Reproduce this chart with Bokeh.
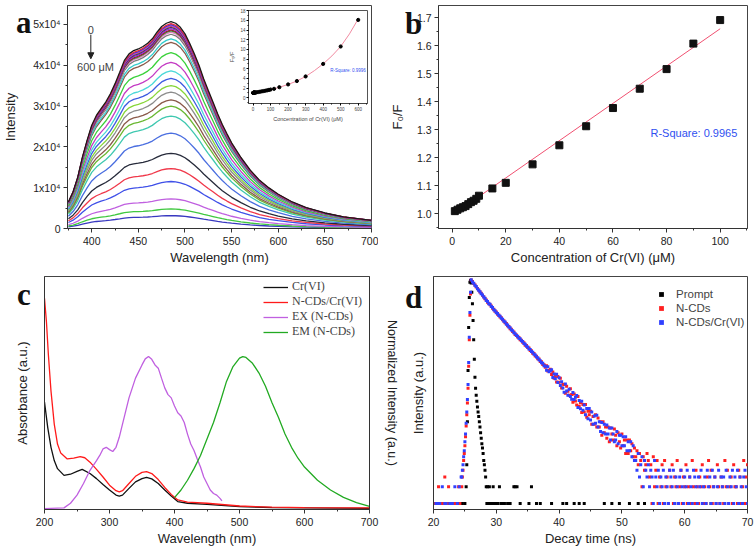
import numpy as np
from bokeh.plotting import figure
from bokeh.layouts import column, row
from bokeh.models import (Range1d, LinearAxis, FixedTicker, SingleIntervalTicker,
                          Label, Arrow, NormalHead, Legend, LegendItem, Div,
                          PrintfTickFormatter)
from bokeh.embed import file_html
from bokeh.resources import INLINE

SANS = "Liberation Sans"
SERIF = "Liberation Serif"

# ---------------- data: panel a (emission spectra) ----------------
wavelength = [375, 380, 385, 390, 395, 400, 405, 410, 415, 420, 425, 430, 435, 440, 445,
              450, 455, 460, 465, 470, 475, 480, 485, 490, 495, 500, 505, 510, 515, 520,
              525, 530, 535, 540, 545, 550, 560, 570, 580, 590, 600, 615, 630, 650, 670, 700]
intensity_0uM = [6500, 9000, 12600, 17500, 21600, 25300, 27700, 29400, 31000, 33000, 35500,
                 38300, 41200, 42800, 43600, 44000, 44600, 45400, 46500, 48100, 49500, 50300,
                 50700, 50300, 49300, 47700, 45400, 42800, 40000, 36700, 33800, 31000, 28100,
                 25500, 23200, 21000, 17400, 14300, 11800, 9950, 8400, 6500, 5100, 3800, 2850, 2000]
conc = [0, 1, 2, 3, 4, 5, 6, 7, 8, 9, 10, 15, 20, 30, 40, 50, 60, 70, 80, 90, 100,
        120, 150, 200, 250, 300, 400, 500, 600]
f0_over_f = [1.000, 1.010, 1.015, 1.020, 1.024, 1.028, 1.035, 1.042, 1.047, 1.054, 1.065,
             1.091, 1.111, 1.177, 1.245, 1.313, 1.378, 1.447, 1.517, 1.608, 1.692,
             1.84, 2.17, 2.75, 3.45, 4.4, 7.0, 10.6, 16.1]
spec_colors = ["#1a1a1a", "#e8283c", "#2f3fd8", "#d63ad6", "#8a6a2f", "#20207f", "#9932cc",
               "#9b1b30", "#3a9a3a", "#e879c8", "#7a7a7a", "#33cccc", "#8b5a4a", "#3ad13a",
               "#c43bc4", "#4ad8d8", "#3f5be0", "#88d63a", "#8c8c8c", "#8b5a4a", "#6ab832",
               "#3fc8b0", "#4a6ee0", "#262a3a", "#f0384a", "#3f50e8", "#c060e0", "#40c840", "#3838c0"]
inset_fit_conc = [0, 50, 100, 150, 200, 250, 300, 350, 400, 450, 500, 550, 600]
inset_fit_val = [1.0, 1.3, 1.65, 2.15, 2.75, 3.45, 4.4, 5.6, 7.0, 8.65, 10.6, 13.2, 16.3]

# ---------------- data: panel b ----------------
b_conc = conc[1:21]
b_ratio = f0_over_f[1:21]
b_fit_conc = [1, 100]
b_fit_ratio = [1.002, 1.661]

# ---------------- data: panel c ----------------
crvi_wl = [200, 205, 210, 215, 220, 230, 240, 250, 258, 270, 280, 290, 300, 310, 315, 320, 330,
           340, 350, 357, 365, 375, 385, 395, 405, 420, 450, 500, 550, 600, 700]
crvi_abs = [0.459, 0.349, 0.264, 0.207, 0.172, 0.143, 0.148, 0.160, 0.169, 0.151, 0.129, 0.104,
            0.080, 0.058, 0.054, 0.058, 0.087, 0.115, 0.129, 0.134, 0.128, 0.108, 0.080, 0.054,
            0.030, 0.023, 0.018, 0.009, 0.004, 0.003, 0.001]
mix_wl = [200, 203, 206, 210, 215, 220, 225, 235, 245, 255, 262, 270, 280, 290, 300, 310, 315,
          320, 330, 340, 350, 357, 365, 375, 385, 395, 405, 420, 450, 500, 550, 600, 700]
mix_abs = [0.906, 0.804, 0.662, 0.506, 0.364, 0.278, 0.239, 0.214, 0.217, 0.224, 0.219, 0.200,
           0.169, 0.136, 0.101, 0.077, 0.072, 0.077, 0.108, 0.139, 0.156, 0.159, 0.151, 0.125,
           0.091, 0.061, 0.037, 0.028, 0.023, 0.011, 0.006, 0.004, 0.003]
ex_wl = [200, 230, 240, 250, 260, 270, 280, 285, 290, 295, 300, 305, 310, 315, 320, 330, 340,
         350, 355, 360, 365, 370, 375, 380, 385, 390, 395, 400, 405, 410, 415, 420, 425, 430,
         435, 440, 445, 450, 455, 460, 465, 470, 473]
ex_int = [0.0, 0.003, 0.023, 0.058, 0.108, 0.165, 0.207, 0.229, 0.257, 0.264, 0.254, 0.246,
          0.264, 0.307, 0.364, 0.477, 0.562, 0.619, 0.645, 0.655, 0.643, 0.619, 0.605, 0.562,
          0.520, 0.491, 0.477, 0.442, 0.413, 0.399, 0.371, 0.321, 0.278, 0.250, 0.214, 0.179,
          0.136, 0.108, 0.080, 0.065, 0.058, 0.044, 0.033]
em_wl = [400, 410, 420, 430, 440, 450, 460, 470, 480, 490, 500, 505, 510, 520, 530, 540, 550,
         560, 570, 580, 590, 600, 620, 640, 660, 680, 700]
em_int = [0.047, 0.080, 0.122, 0.172, 0.229, 0.300, 0.371, 0.456, 0.548, 0.612, 0.648, 0.655,
          0.651, 0.626, 0.584, 0.527, 0.456, 0.392, 0.321, 0.264, 0.217, 0.179, 0.122, 0.080,
          0.048, 0.026, 0.009]

# ---------------- data: panel d (decay counts) ----------------
t_main = np.round(np.arange(26.0, 52.01, 0.2), 1)   # time channels, ns
t_tail = np.round(np.arange(52.2, 70.01, 0.2), 1)
ncd_main = [10800, 10150, 9300, 8800, 8050, 7600, 7150, 6550, 6200, 5700,
            5400, 4950, 4720, 4300, 4100, 3850, 3680, 3350, 3210, 2940,
            2850, 2610, 2530, 2320, 2240, 2060, 1990, 1820, 1770, 1610,
            1570, 1430, 1390, 1270, 1240, 1120, 1100, 1010, 990, 900,
            885, 810, 795, 720, 710, 650, 640, 575, 570, 515,
            510, 460, 455, 410, 405, 365, 360, 322, 320, 286,
            305, 245, 251, 265, 213, 235, 182, 195, 155, 196,
            154, 182, 122, 142, 140, 98, 130, 106, 90, 118,
            93, 67, 95, 71, 60, 85, 57, 66, 44, 61,
            45, 61, 36, 46, 40, 46, 27, 37, 27, 40,
            24, 35, 24, 30, 17, 30, 19, 24, 15, 24,
            13, 23, 18, 14, 22, 17, 11, 19, 13, 10,
            18, 11, 14, 8, 14, 8, 14, 9, 12, 7, 10]
ncd_tail = [7, 9, 5, 8, 6, 2, 7, 4, 5, 8, 6, 3, 5, 1, 7, 2, 4, 6, 1, 3,
            2, 5, 1, 6, 2, 3, 1, 4, 2, 5, 1, 3, 2, 6, 1, 2, 4, 1, 3, 2,
            5, 1, 2, 3, 1, 6, 2, 1, 4, 2, 1, 3, 2, 5, 1, 2, 1, 3, 6, 2,
            4, 1, 2, 3, 1, 5, 2, 1, 3, 2, 1, 6, 2, 4, 1, 2, 3, 1, 5, 2,
            2, 1, 4, 3, 1, 2, 6, 1, 3, 5]
ncd_pre_t = [20.2, 20.6, 20.8, 21.2, 21.6, 21.8, 22.2, 22.4, 22.8, 23.2, 23.6, 24.0, 24.2, 24.5,
             24.6, 24.7, 24.8, 24.9, 25.0, 25.1, 25.2, 25.3, 25.4, 25.5, 25.6, 25.7, 25.8, 25.9]
ncd_pre_c = [1, 1, 2, 1, 1, 3, 1, 2, 1, 1, 1, 2, 1, 2, 3, 4, 6, 8, 11, 16, 25, 40, 65, 120,
             300, 900, 2500, 6000]
mix_main = [10900, 9950, 9400, 8650, 8200, 7500, 7050, 6650, 6100, 5800,
            5300, 5050, 4620, 4420, 4020, 3920, 3580, 3430, 3120, 3010,
            2780, 2680, 2460, 2390, 2190, 2110, 1940, 1880, 1720, 1670,
            1530, 1480, 1350, 1310, 1200, 1160, 1070, 1040, 955, 935,
            860, 835, 770, 750, 690, 668, 615, 600, 552, 538,
            495, 480, 440, 428, 392, 378, 346, 338, 306, 300,
            254, 293, 238, 249, 258, 188, 218, 178, 216, 153,
            186, 134, 157, 122, 102, 144, 107, 90, 115, 85,
            76, 101, 75, 83, 89, 54, 72, 51, 70, 48,
            60, 40, 52, 34, 52, 32, 45, 27, 38, 28,
            39, 24, 30, 20, 29, 19, 27, 18, 26, 18,
            23, 14, 23, 18, 13, 14, 20, 12, 17, 17,
            11, 16, 11, 16, 9, 13, 9, 13, 7, 11, 6]
mix_tail = [6, 4, 8, 3, 5, 7, 2, 6, 4, 3, 5, 2, 4, 3, 1, 6, 3, 2, 4, 1,
            3, 2, 4, 1, 3, 2, 1, 4, 3, 2, 4, 1, 3, 2, 1, 3, 4, 2, 1, 3,
            2, 4, 1, 3, 2, 1, 4, 3, 2, 1, 3, 2, 4, 1, 2, 3, 1, 4, 2, 3,
            1, 4, 2, 3, 1, 2, 4, 1, 3, 2, 3, 1, 4, 2, 1, 3, 2, 4, 1, 3,
            2, 4, 1, 3, 2, 1, 3, 4, 2, 1]
mix_pre_t = [20.4, 20.8, 21.0, 21.4, 21.8, 22.0, 22.6, 23.0, 23.4, 23.8, 24.1, 24.4, 24.5, 24.6,
             24.7, 24.8, 24.9, 25.0, 25.1, 25.2, 25.3, 25.4, 25.5, 25.6, 25.7, 25.8, 25.9]
mix_pre_c = [1, 1, 1, 2, 1, 1, 1, 1, 2, 1, 2, 3, 3, 4, 5, 7, 9, 13, 18, 28, 45, 75, 140, 350,
             1000, 2800, 6500]
prompt_t = [20.2, 20.6, 21.0, 21.4, 21.8, 22.2, 22.6, 23.0, 23.4, 23.8, 24.2, 24.6, 25.0,
            25.2, 25.3, 25.4, 25.5, 25.6, 25.7, 25.8, 25.9,
            26.0, 26.1, 26.2, 26.3, 26.4, 26.5, 26.6, 26.7, 26.8, 26.9, 27.0, 27.1, 27.2, 27.3,
            27.4, 27.5, 27.6, 27.7, 27.8, 27.9, 28.0, 28.1, 28.2, 28.3,
            28.4, 28.5, 28.6, 28.8, 28.9, 29.0, 29.2, 29.4, 29.5, 29.7, 30.0, 30.3, 30.5, 30.8,
            31.0, 31.3, 31.8, 32.2, 32.8, 33.0, 33.3, 33.8, 35.2, 35.6, 36.4, 37.0, 38.8, 40.6,
            41.2, 42.4, 43.2, 44.0, 47.2, 48.4, 49.6, 51.2, 52.6, 53.6, 55.8, 58.4, 61.0, 64.2]
prompt_c = [1, 1, 1, 1, 1, 1, 1, 1, 1, 1, 1, 1, 1,
            2, 5, 30, 250, 1500, 5200, 9800, 10600,
            9500, 6500, 4000, 2000, 900, 400, 190, 120, 90, 70, 55, 45, 37, 30,
            24, 19, 15, 12, 10, 8, 6, 5, 4, 3,
            2, 1, 2, 1, 2, 1, 1, 1, 2, 1, 1, 1, 2, 1,
            1, 1, 1, 1, 2, 2, 2, 1, 1, 2, 1, 1, 1, 1,
            1, 1, 1, 1, 1, 1, 1, 1, 1, 1, 1, 1, 1, 1]

panel_letters = ["a", "b", "c", "d"]


def base(p):
    p.grid.visible = False
    p.outline_line_color = "#444444"
    p.outline_line_width = 1
    p.background_fill_color = "white"
    for ax in p.xaxis + p.yaxis:
        ax.axis_line_color = "#333333"
        ax.major_tick_line_color = "#333333"
        ax.minor_tick_line_color = "#333333"
        ax.major_tick_in = 0
        ax.major_tick_out = 4
        ax.minor_tick_in = 0
        ax.minor_tick_out = 2
        ax.major_label_text_font = SANS
        ax.major_label_text_font_size = "10.5px"
        ax.major_label_text_color = "#222222"
        ax.axis_label_text_font = SANS
        ax.axis_label_text_font_style = "normal"
        ax.axis_label_text_font_size = "13px"
        ax.axis_label_text_color = "#222222"
        ax.major_label_standoff = 3


def letter_div(txt, left, top):
    return Div(text=txt, width=30, height=34,
               styles={"position": "absolute", "left": f"{left}px", "top": f"{top}px",
                       "font-family": SERIF, "font-weight": "bold", "font-size": "31px",
                       "line-height": "31px", "color": "#111111"})


common = dict(output_backend="svg", toolbar_location=None)

# ================= panel a =================
pa = figure(width=378, height=270, x_range=Range1d(374, 700), y_range=Range1d(0, 54650),
            min_border_left=62, min_border_right=7, min_border_top=5, min_border_bottom=42,
            **common)
base(pa)
for q, col in list(zip(f0_over_f, spec_colors))[::-1]:
    pa.line(wavelength, np.array(intensity_0uM) / q, line_color=col, line_width=1.3)
pa.xaxis.ticker = SingleIntervalTicker(interval=50, num_minor_ticks=2)
pa.yaxis.ticker = FixedTicker(ticks=[0, 10000, 20000, 30000, 40000, 50000],
                              minor_ticks=[5000, 15000, 25000, 35000, 45000])
pa.yaxis.major_label_overrides = {0: "0", 10000: "1x10\u2074", 20000: "2x10\u2074",
                                  30000: "3x10\u2074", 40000: "4x10\u2074", 50000: "5x10\u2074"}
pa.xaxis.axis_label = "Wavelength (nm)"
pa.yaxis.axis_label = "Intensity"
pa.xaxis.major_label_standoff = 4
pa.xaxis.axis_label_standoff = 2
pa.yaxis.axis_label_standoff = 12
pa.add_layout(Label(x=399, y=48700, text="0", text_font=SANS, text_font_size="11px",
                    text_align="center", text_baseline="middle"))
pa.add_layout(Arrow(x_start=399, y_start=47500, x_end=399, y_end=41600, line_width=1,
                    line_color="#222222",
                    end=NormalHead(size=6, fill_color="#222222", line_color="#222222")))
pa.add_layout(Label(x=404, y=39600, text="600 \u03bcM", text_font=SANS, text_font_size="11px",
                    text_align="center", text_baseline="middle"))

# ----- inset of panel a -----
ins = figure(width=146, height=118, x_range=Range1d(-26, 653), y_range=Range1d(-1.2, 18.05),
             min_border_left=13, min_border_right=5, min_border_top=4, min_border_bottom=20,
             styles={"position": "absolute", "left": "226px", "top": "6px"}, **common)
ins.grid.visible = False
ins.border_fill_alpha = 0
ins.outline_line_color = "#555555"
ins.line(inset_fit_conc, inset_fit_val, line_color="#f08aa0", line_width=1)
ins.scatter(conc, f0_over_f, marker="circle", size=3.2, color="black")
for ax in ins.xaxis + ins.yaxis:
    ax.major_tick_in = 0
    ax.major_tick_out = 2
    ax.minor_tick_in = 0
    ax.minor_tick_out = 1
    ax.axis_line_color = "#444444"
    ax.major_label_text_font = SANS
    ax.major_label_text_font_size = "4.5px"
    ax.major_label_standoff = 1
    ax.axis_label_text_font = SANS
    ax.axis_label_text_font_style = "normal"
    ax.axis_label_text_font_size = "5.5px"
    ax.axis_label_standoff = 2
ins.xaxis.ticker = SingleIntervalTicker(interval=100, num_minor_ticks=2)
ins.yaxis.ticker = SingleIntervalTicker(interval=2, num_minor_ticks=2)
ins.xaxis.axis_label = "Concentration of Cr(VI) (\u03bcM)"
ins.yaxis.axis_label = "F\u2080/F"
ins.add_layout(Label(x=441, y=5.6, text="R-Square: 0.9996", text_font=SANS,
                     text_font_size="4.5px", text_color="#3050f0", text_baseline="middle"))

# ================= panel b =================
pb = figure(width=378, height=270, x_range=Range1d(-5.1, 110.2), y_range=Range1d(0.948, 1.744),
            min_border_left=60, min_border_right=9, min_border_top=5, min_border_bottom=41,
            **common)
base(pb)
pb.line(b_fit_conc, b_fit_ratio, line_color="#f05070", line_width=1)
pb.scatter(b_conc, b_ratio, marker="square", size=7, color="#111111")
pb.xaxis.ticker = SingleIntervalTicker(interval=20, num_minor_ticks=2)
pb.yaxis.ticker = SingleIntervalTicker(interval=0.1, num_minor_ticks=2)
pb.yaxis.formatter = PrintfTickFormatter(format="%.1f")
pb.xaxis.axis_label = "Concentration of Cr(VI) (\u03bcM)"
pb.yaxis.axis_label = "F\u2080/F"
pb.xaxis.major_label_standoff = 4
pb.xaxis.axis_label_standoff = 2
pb.yaxis.axis_label_standoff = 9
pb.add_layout(Label(x=74, y=1.289, text="R-Square: 0.9965", text_font=SANS,
                    text_font_size="11px", text_color="#3050f0", text_baseline="middle"))

# ================= panel c =================
pc = figure(width=404, height=280, x_range=Range1d(200, 700), y_range=Range1d(-0.004, 1.0),
            min_border_left=44, min_border_right=35, min_border_top=4, min_border_bottom=41,
            **common)
base(pc)
r1 = pc.line(crvi_wl, crvi_abs, line_color="#111111", line_width=1.3)
r2 = pc.line(mix_wl, mix_abs, line_color="#ff1a1a", line_width=1.3)
r3 = pc.line(ex_wl, ex_int, line_color="#c060e0", line_width=1.3)
r4 = pc.line(em_wl, em_int, line_color="#22aa22", line_width=1.3)
pc.xaxis.ticker = SingleIntervalTicker(interval=100, num_minor_ticks=2)
pc.yaxis.ticker = FixedTicker(ticks=[])
pc.yaxis.axis_label = "Absorbance (a.u.)"
pc.yaxis.axis_label_standoff = 15
pc.xaxis.axis_label = "Wavelength (nm)"
pc.xaxis.major_label_standoff = 4
pc.xaxis.axis_label_standoff = 2
rax = LinearAxis(ticker=FixedTicker(ticks=[]), axis_label="Normalized Intensity (a.u.)",
                 axis_label_text_font=SANS, axis_label_text_font_style="normal",
                 axis_label_text_font_size="12.5px", axis_label_text_color="#222222",
                 axis_label_standoff=15, axis_line_color="#333333")
pc.add_layout(rax, "right")
leg_c = Legend(items=[LegendItem(label="Cr(VI)", renderers=[r1]),
                      LegendItem(label="N-CDs/Cr(VI)", renderers=[r2]),
                      LegendItem(label="EX (N-CDs)", renderers=[r3]),
                      LegendItem(label="EM (N-CDs)", renderers=[r4])],
               location=(219, 170), label_text_font=SERIF, label_text_font_size="12px",
               glyph_width=25, glyph_height=14, label_height=14, spacing=0, padding=0,
               margin=0, border_line_alpha=0, background_fill_alpha=0, label_standoff=4)
pc.add_layout(leg_c)

# ================= panel d =================
pd_ = figure(width=352, height=280, x_range=Range1d(20, 70), y_range=Range1d(0.78, 12470),
             y_axis_type="log", min_border_left=29, min_border_right=9, min_border_top=6,
             min_border_bottom=41, **common)
base(pd_)
kw = dict(marker="square", size=3, line_width=0)
k1 = pd_.scatter(prompt_t, prompt_c, color="#000000", **kw)
k2 = pd_.scatter(ncd_pre_t, ncd_pre_c, color="#ff2020", **kw)
k3 = pd_.scatter(t_main, ncd_main, color="#ff2020", **kw)
k4 = pd_.scatter(t_tail, ncd_tail, color="#ff2020", **kw)
k5 = pd_.scatter(mix_pre_t, mix_pre_c, color="#3040ff", **kw)
k6 = pd_.scatter(t_main, mix_main, color="#3040ff", **kw)
k7 = pd_.scatter(t_tail, mix_tail, color="#3040ff", **kw)
pd_.xaxis.ticker = SingleIntervalTicker(interval=10, num_minor_ticks=2)
pd_.yaxis.ticker = FixedTicker(ticks=[])
pd_.yaxis.axis_label = "Intensity (a.u.)"
pd_.yaxis.axis_label_standoff = 8
pd_.xaxis.axis_label = "Decay time (ns)"
pd_.xaxis.major_label_standoff = 4
pd_.xaxis.axis_label_standoff = 2
leg_d = Legend(items=[LegendItem(label="Prompt", renderers=[k1]),
                      LegendItem(label="N-CDs", renderers=[k3]),
                      LegendItem(label="N-CDs/Cr(VI)", renderers=[k6])],
               location=(222, 180), label_text_font=SANS, label_text_font_size="11.5px",
               glyph_width=12, glyph_height=14, label_height=14, spacing=0, padding=0,
               margin=0, border_line_alpha=0, background_fill_alpha=0, label_standoff=9)
pd_.add_layout(leg_d)

letters = [letter_div(panel_letters[0], 11, 2), letter_div(panel_letters[1], 400, 3),
           letter_div(panel_letters[2], 12, 274), letter_div(panel_letters[3], 400, 277)]

layout = column(row(pa, pb), row(pc, pd_), ins, *letters)
open("out.html", "w").write(file_html(layout, INLINE))
